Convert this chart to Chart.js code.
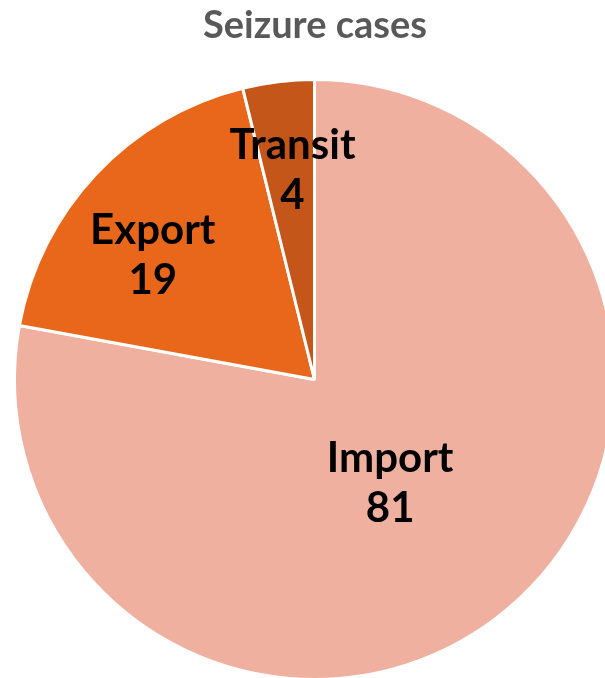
<!DOCTYPE html>
<html>
<head>
<meta charset="utf-8">
<script src="https://cdn.jsdelivr.net/npm/chart.js@4/dist/chart.umd.min.js"></script>
<style>
  html, body { margin: 0; padding: 0; background: #fff; overflow: hidden; width: 605px; height: 678px; }
  #wrap { position: absolute; left: 0; top: 0; width: 640px; height: 720px; }
  #title {
    position: absolute; left: 0; top: 0px; width: 630px; text-align: center;
    font-family: Lato, "Open Sans", sans-serif; font-weight: bold; font-size: 38px;
    color: #595959; z-index: 2;
  }
</style>
</head>
<body>
<div id="title">Seizure cases</div>
<div id="wrap"><canvas id="seizureChart" width="640" height="720"></canvas></div>
<script>
// data
const categories = ["Import", "Export", "Transit"];
const caseCounts = [81, 19, 4];
const sliceColors = ["#F0B0A0", "#E8671A", "#C4561A"];

// label placement: fraction of radius along the slice middle, then a small nudge
const labelRadius = [0.42, 0.69, 0.72];
const labelNudge = [[-5, 7], [-11, 18], [4, 5]];

const sliceLabels = {
    id: "sliceLabels",
    afterDatasetsDraw(chart) {
        const ctx = chart.ctx;
        const meta = chart.getDatasetMeta(0);
        ctx.save();
        ctx.fillStyle = "#000";
        ctx.font = "bold 42px Lato, 'Open Sans', sans-serif";
        ctx.textAlign = "center";
        ctx.textBaseline = "middle";
        meta.data.forEach((arc, i) => {
            const mid = (arc.startAngle + arc.endAngle) / 2;
            const r = arc.outerRadius * labelRadius[i];
            const x = arc.x + Math.cos(mid) * r + labelNudge[i][0];
            const y = arc.y + Math.sin(mid) * r + labelNudge[i][1];
            ctx.fillText(categories[i], x, y - 25);
            ctx.fillText(String(caseCounts[i]), x, y + 25);
        });
        ctx.restore();
    },
};

new Chart(document.getElementById("seizureChart"), {
    type: "pie",
    data: {
        labels: categories,
        datasets: [{
            data: caseCounts,
            backgroundColor: sliceColors,
            borderColor: "#fff",
            borderWidth: 3,
        }],
    },
    options: {
        responsive: false,
        animation: false,
        layout: { padding: { left: 13, top: 78, right: 24, bottom: 39 } },
        plugins: {
            legend: { display: false },
            tooltip: { enabled: false },
            title: { display: false },
        },
    },
    plugins: [sliceLabels],
});
</script>
</body>
</html>
